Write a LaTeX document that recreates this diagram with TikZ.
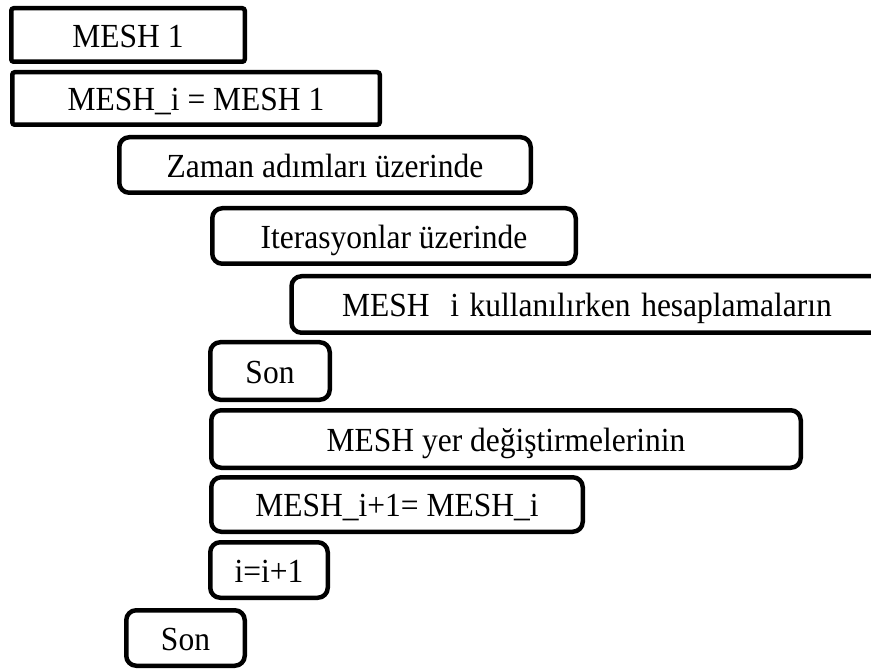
\documentclass[tikz,border=0pt]{standalone}
\usepackage{fontspec}
\setmainfont{Liberation Serif}
% slightly tall lettering used in every box
\newcommand{\tallword}[1]{\scalebox{1}[1.07]{#1}}
\begin{document}
\begin{tikzpicture}[x=1pt, y=-1pt,
  every node/.style={font=\fontsize{31.5}{36}\selectfont, text height=24.5pt, text depth=0pt},
  box/.style={draw=black, line width=4.5pt, rounded corners=10pt, inner sep=0pt},
  plainbox/.style={box, rounded corners=2.5pt}]
  \useasboundingbox (0,0) rectangle (871,671);
  \clip (0,0) rectangle (871,671);

  % initial mesh
  \node[plainbox, minimum width=233.5pt, minimum height=53.5pt] (mesh1) at (128,35) {\tallword{MESH 1}};
  \node[plainbox, minimum width=367.5pt, minimum height=52.5pt] (meshi) at (196,98.5) {\tallword{MESH\_i = MESH 1}};

  % time loop
  \node[box, minimum width=411.5pt, minimum height=55.5pt] (time) at (325,165) {\tallword{Zaman adımları üzerinde}};

  % iteration loop
  \node[box, minimum width=363.5pt, minimum height=55.5pt] (iter) at (394,236) {\tallword{Iterasyonlar üzerinde}};
  \node[box, anchor=west, minimum height=56.5pt, text width=640pt, align=left, inner xsep=50.5pt] (calc) at (289.25,304.5) {\tallword{MESH\ \ i kullanılırken hesaplamaların}};
  \node[box, minimum width=119.5pt, minimum height=57.5pt] (son1) at (270,371) {\tallword{Son}};

  % mesh update
  \node[box, minimum width=589.5pt, minimum height=57.5pt] (disp) at (506,439) {\tallword{MESH yer değiştirmelerinin}};
  \node[box, minimum width=371.5pt, minimum height=54.5pt] (copy) at (397,504.5) {\tallword{MESH\_i+1= MESH\_i}};
  \node[box, minimum width=117.5pt, minimum height=55.5pt] (incr) at (269,570) {\tallword{i=i+1}};

  % end of time loop
  \node[box, minimum width=118.5pt, minimum height=55.5pt] (son2) at (185.5,638) {\tallword{Son}};
\end{tikzpicture}
\end{document}
